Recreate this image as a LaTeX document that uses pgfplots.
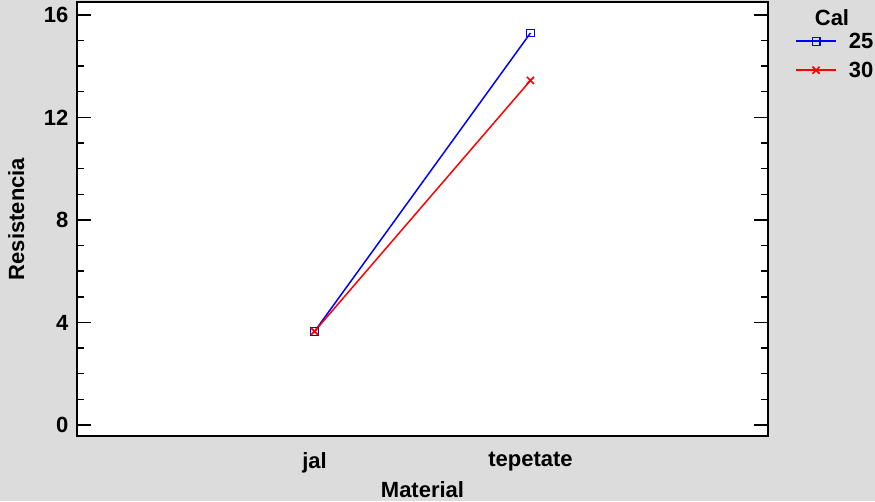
\documentclass[border=0pt]{standalone}
\usepackage{pgfplots}
\pgfplotsset{compat=1.18}
\usepackage{fontspec}
\setmainfont{Liberation Sans}
\usetikzlibrary{backgrounds}
\definecolor{bggray}{RGB}{220,220,220}
\newcommand{\chartfont}{\fontsize{22}{26}\selectfont\bfseries}

\begin{document}
\begin{tikzpicture}[font=\chartfont]
\begin{axis}[
    at={(0,0)}, anchor=south west,
    scale only axis,
    width=691pt, height=434pt,
    xmin=-0.1, xmax=3.1,
    ymin=-0.43, ymax=16.5,
    clip=false,
    xtick={1,2}, xticklabels={jal,tepetate},
    xtick style={draw=none},
    ytick={0,4,8,12,16},
    minor y tick num=3,
    tick align=inside,
    tick pos=both,
    major tick length=14pt,
    minor tick length=7pt,
    every tick/.style={black, line width=1.5pt},
    axis line style={line width=1.6pt},
    axis background/.style={fill=white},
    /pgf/number format/assume math mode=true,
    tick label style={font=\chartfont},
    xticklabel style={yshift=-13pt},
    yticklabel style={xshift=-5pt},
    xlabel={Material},
    ylabel={Resistencia},
    xlabel style={at={(axis description cs:0.5,-0.124)}, anchor=center},
    ylabel style={at={(axis description cs:-0.088,0.5)}, anchor=center},
    legend image code/.code={
        \draw[mark repeat=2, mark phase=2, line width=1.8pt]
        plot coordinates {(0pt,0pt) (20pt,0pt) (40pt,0pt)};
        \path (50pt,0pt);
    },
    legend style={at={(axis description cs:1.039,0.876)}, anchor=west,
        draw=none, fill=none, inner sep=0pt, row sep=8pt,
        font=\chartfont},
    legend cell align=left,
]
\addplot[blue, line width=1.5pt, mark=square, mark size=3.8pt,
    mark options={line width=1.3pt}]
    coordinates {(1,3.65) (2,15.29)};
\addlegendentry{25}
\addplot[red, line width=1.5pt, mark=x, mark size=5pt,
    mark options={line width=1.7pt}]
    coordinates {(1,3.65) (2,13.44)};
\addlegendentry{30}
\node at (axis description cs:1.0926,0.965) {Cal};
\end{axis}
\begin{scope}[on background layer]
\fill[bggray] (-77pt,-65pt) rectangle (798pt,436pt);
\end{scope}
\pgfresetboundingbox
\path[use as bounding box] (-77pt,-65pt) rectangle (798pt,436pt);
\end{tikzpicture}
\end{document}
